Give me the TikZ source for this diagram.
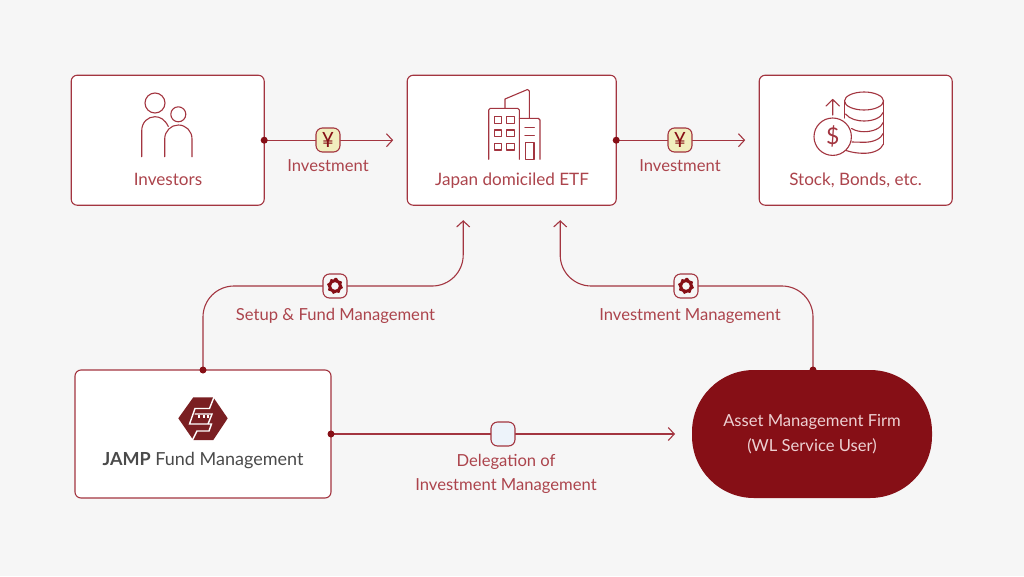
\documentclass[tikz,border=0pt]{standalone}
\usepackage{fontspec}
\setmainfont{Lato}
\usetikzlibrary{arrows.meta,calc}
\definecolor{bgc}{HTML}{F6F6F6}
\definecolor{wine}{HTML}{A33540}
\definecolor{dark}{HTML}{860F16}
\definecolor{txt}{HTML}{AC444C}
\definecolor{yen}{HTML}{F1EEBE}
\definecolor{pale}{HTML}{EDF3FA}
\definecolor{logoc}{HTML}{7A1F22}
\definecolor{greyc}{HTML}{4A4A4A}
\definecolor{pink}{HTML}{EDD0D2}
\tikzset{
 x=1pt,y=-1pt,
 card/.style={draw=wine,line width=1.1pt,fill=white,rounded corners=6pt,minimum height=130pt,inner sep=0pt,outer sep=0pt},
 pill/.style={fill=dark,rounded corners=62pt,minimum width=240pt,minimum height=128pt,text=pink,align=center,inner sep=0pt,outer sep=0pt,font=\fontsize{16.6}{25}\selectfont},
 conn/.style={draw=wine,line width=1.1pt,rounded corners=31pt,-{Straight Barb[length=6pt,width=13pt,line width=1.1pt]}},
 pin/.style={circle,fill=dark,minimum size=7pt,inner sep=0pt},
 badge/.style={draw=wine,line width=1.1pt,rounded corners=6.5pt,minimum size=24pt,inner sep=0pt,fill=bgc},
 lbl/.style={text=txt,font=\fontsize{16.6}{24}\selectfont,align=center,inner sep=0pt,anchor=base},
 cardlbl/.style={lbl,font=\fontsize{17.1}{24}\selectfont},
 mlbl/.style={text=txt,font=\fontsize{16.6}{24}\selectfont,align=center,inner sep=0pt},
 ico/.style={draw=wine,line width=1.1pt,line cap=round,line join=round},
 yenmark/.style={text=dark,font=\fontsize{21}{21}\selectfont},
}
\newcommand{\gearicon}[1]{%
 \fill[dark,even odd rule] #1 +(0,-8.2)
 \foreach \a in {22.5,67.5,...,337.5}{ -- +(\a-90-9:8.2) -- +(\a-90+9:6.6) } -- +(0,-8.2)
 #1 circle[radius=3.9];}
\begin{document}
\begin{tikzpicture}
\useasboundingbox[fill=bgc] (0,0) rectangle (1024,576);
% boxes
\node[card,minimum width=193pt] (inv) at (167.7,140.2) {};
\node[card,minimum width=209pt] (etf) at (511.7,140.2) {};
\node[card,minimum width=193pt] (stk) at (855.7,140.2) {};
\node[card,minimum width=256pt,minimum height=128pt] (jamp) at (203,434) {};
\node[pill] (firm) at (812,434) {Asset Management Firm\\(WL Service User)};
% connector waypoints
\coordinate (etfL) at ($(etf.south west)+(56,0)$);
\coordinate (etfR) at ($(etf.south west)+(153,0)$);
\coordinate (firmTop) at ($(firm.north)+(1,0)$);
\coordinate (midA) at (335,286);
\coordinate (midB) at (686,286);
% connectors
\draw[conn,shorten >=14pt] (inv.east) -- (etf.west);
\draw[conn,shorten >=14pt] (etf.east) -- (stk.west);
\draw[conn,shorten >=17pt] (jamp.east) -- (firm.west);
\draw[conn,shorten >=15pt] (jamp.north) |- (midA) -| (etfL);
\draw[conn,shorten >=15pt] (firmTop) |- (midB) -| (etfR);
% pins
\node[pin] (p1) at (inv.east) {};
\node[pin] (p2) at (etf.east) {};
\node[pin] (p3) at (jamp.east) {};
\node[pin] (p4) at (jamp.north) {};
\node[pin] (p5) at (firmTop) {};
% badges
\node[badge,fill=yen,yenmark] (b1) at (328,140) {¥};
\node[badge,fill=yen,yenmark] (b2) at (680,140) {¥};
\node[badge] (b3) at (midA) {};
\node[badge] (b4) at (midB) {};
\node[badge,fill=pale] (b5) at (503,434) {};
\gearicon{(b3.center)}
\gearicon{(b4.center)}
% labels
\node[lbl] (t1) at (328,171) {Investment};
\node[lbl] (t2) at (680,171) {Investment};
\node[lbl] (t3) at (335.5,320) {Setup \& Fund Management};
\node[lbl] (t4) at (690,320) {Investment Management};
\node[mlbl] (t5) at (506,474) {Delegation of\\Investment Management};
\node[cardlbl] (t6) at (168,185) {Investors};
\node[cardlbl] (t7) at (512,185) {Japan domiciled ETF};
\node[cardlbl] (t8) at (855.5,185) {Stock, Bonds, etc.};
% investors icon
\draw[ico] (155,103) circle[radius=10];
\draw[ico] (178.3,114.3) circle[radius=7.5];
\draw[ico] (141.7,156.7) -- (141.7,131) .. controls (141.7,122) and (148,116.7) .. (155,116.7) .. controls (160,116.7) and (165,119.5) .. (168.3,126.5);
\draw[ico] (164.7,156.7) -- (164.7,139) .. controls (164.7,131) and (171,125) .. (178.3,125) .. controls (186,125) and (192,131) .. (192,139) -- (192,156.7);
% building icon
\draw[ico] (488.7,159.3) -- (488.7,110) -- (490.4,108.3) -- (517.6,108.3) -- (519.3,110) -- (519.3,159.3);
\draw[ico] (519.3,118.3) -- (538.3,118.3) -- (540,120) -- (540,159.3);
\draw[ico] (505,108.3) -- (505,99) -- (527.5,89.5) -- (529.3,91) -- (529.3,118.3);
\foreach \xa in {494.3,506.7}\foreach \ya in {116.7,130,143.3}
  \draw[ico] (\xa,\ya) rectangle ++(7.4,6.7);
\draw[ico] (525,127.7) -- (534.3,127.7) (525,135.7) -- (534.3,135.7);
\draw[ico] (525.3,159.3) -- (525.3,142.3) -- (534,142.3) -- (534,159.3) -- cycle;
% stock icon
\draw[ico] (864,101) ellipse[x radius=19.5,y radius=9];
\draw[ico] (844.5,101) -- (844.5,118);
\draw[ico] (883.5,101) -- (883.5,144);
\draw[ico] (845.5,114) .. controls (850,119.5) and (858,121) .. (864,121) .. controls (873,121) and (881,118) .. (883.5,112);
\draw[ico] (851.5,128.5) .. controls (856,131) and (860,131.7) .. (864,131.7) .. controls (873,131.7) and (881,128.5) .. (883.5,122);
\draw[ico] (852,142) -- (864,142.3) .. controls (873,142.3) and (881,139) .. (883.5,133);
\draw[ico] (846,150.5) .. controls (852,152.5) and (858,153.3) .. (864,153.3) .. controls (873,153.3) and (881,150) .. (883.5,144);
\draw[ico] (832.7,136.7) circle[radius=18.7];
\node[text=wine,font=\fontsize{23}{23}\selectfont,inner sep=0pt] (dollar) at (832.7,136.7) {\$};
\draw[ico] (832.7,115) -- (832.7,99.5) (826,106) -- (832.7,99.5) -- (839.4,106);
% logo
\fill[logoc] (178.3,418.3) -- (193.3,397.3) -- (213.3,397.3) -- (227.7,418.3) -- (213.3,440) -- (193.3,440) -- cycle;
\draw[white,line width=1.4pt,line join=miter] (214,397) -- (209.5,408.5) -- (195,408.5) -- (189.5,424) -- (211.5,424) -- (209,431) -- (197,431) -- (192,441);
\draw[white,line width=1.4pt,line join=miter] (194.5,414) -- (212,414) -- (208,424);
\foreach \xt in {198,202.5,207}\fill[white] (\xt,415) rectangle ++(2.2,3.2);
\node[text=greyc,font=\fontsize{18}{18}\selectfont,inner sep=0pt] (logotext) at (203,460.5) {\textbf{JAMP} Fund Management};
\end{tikzpicture}
\end{document}
